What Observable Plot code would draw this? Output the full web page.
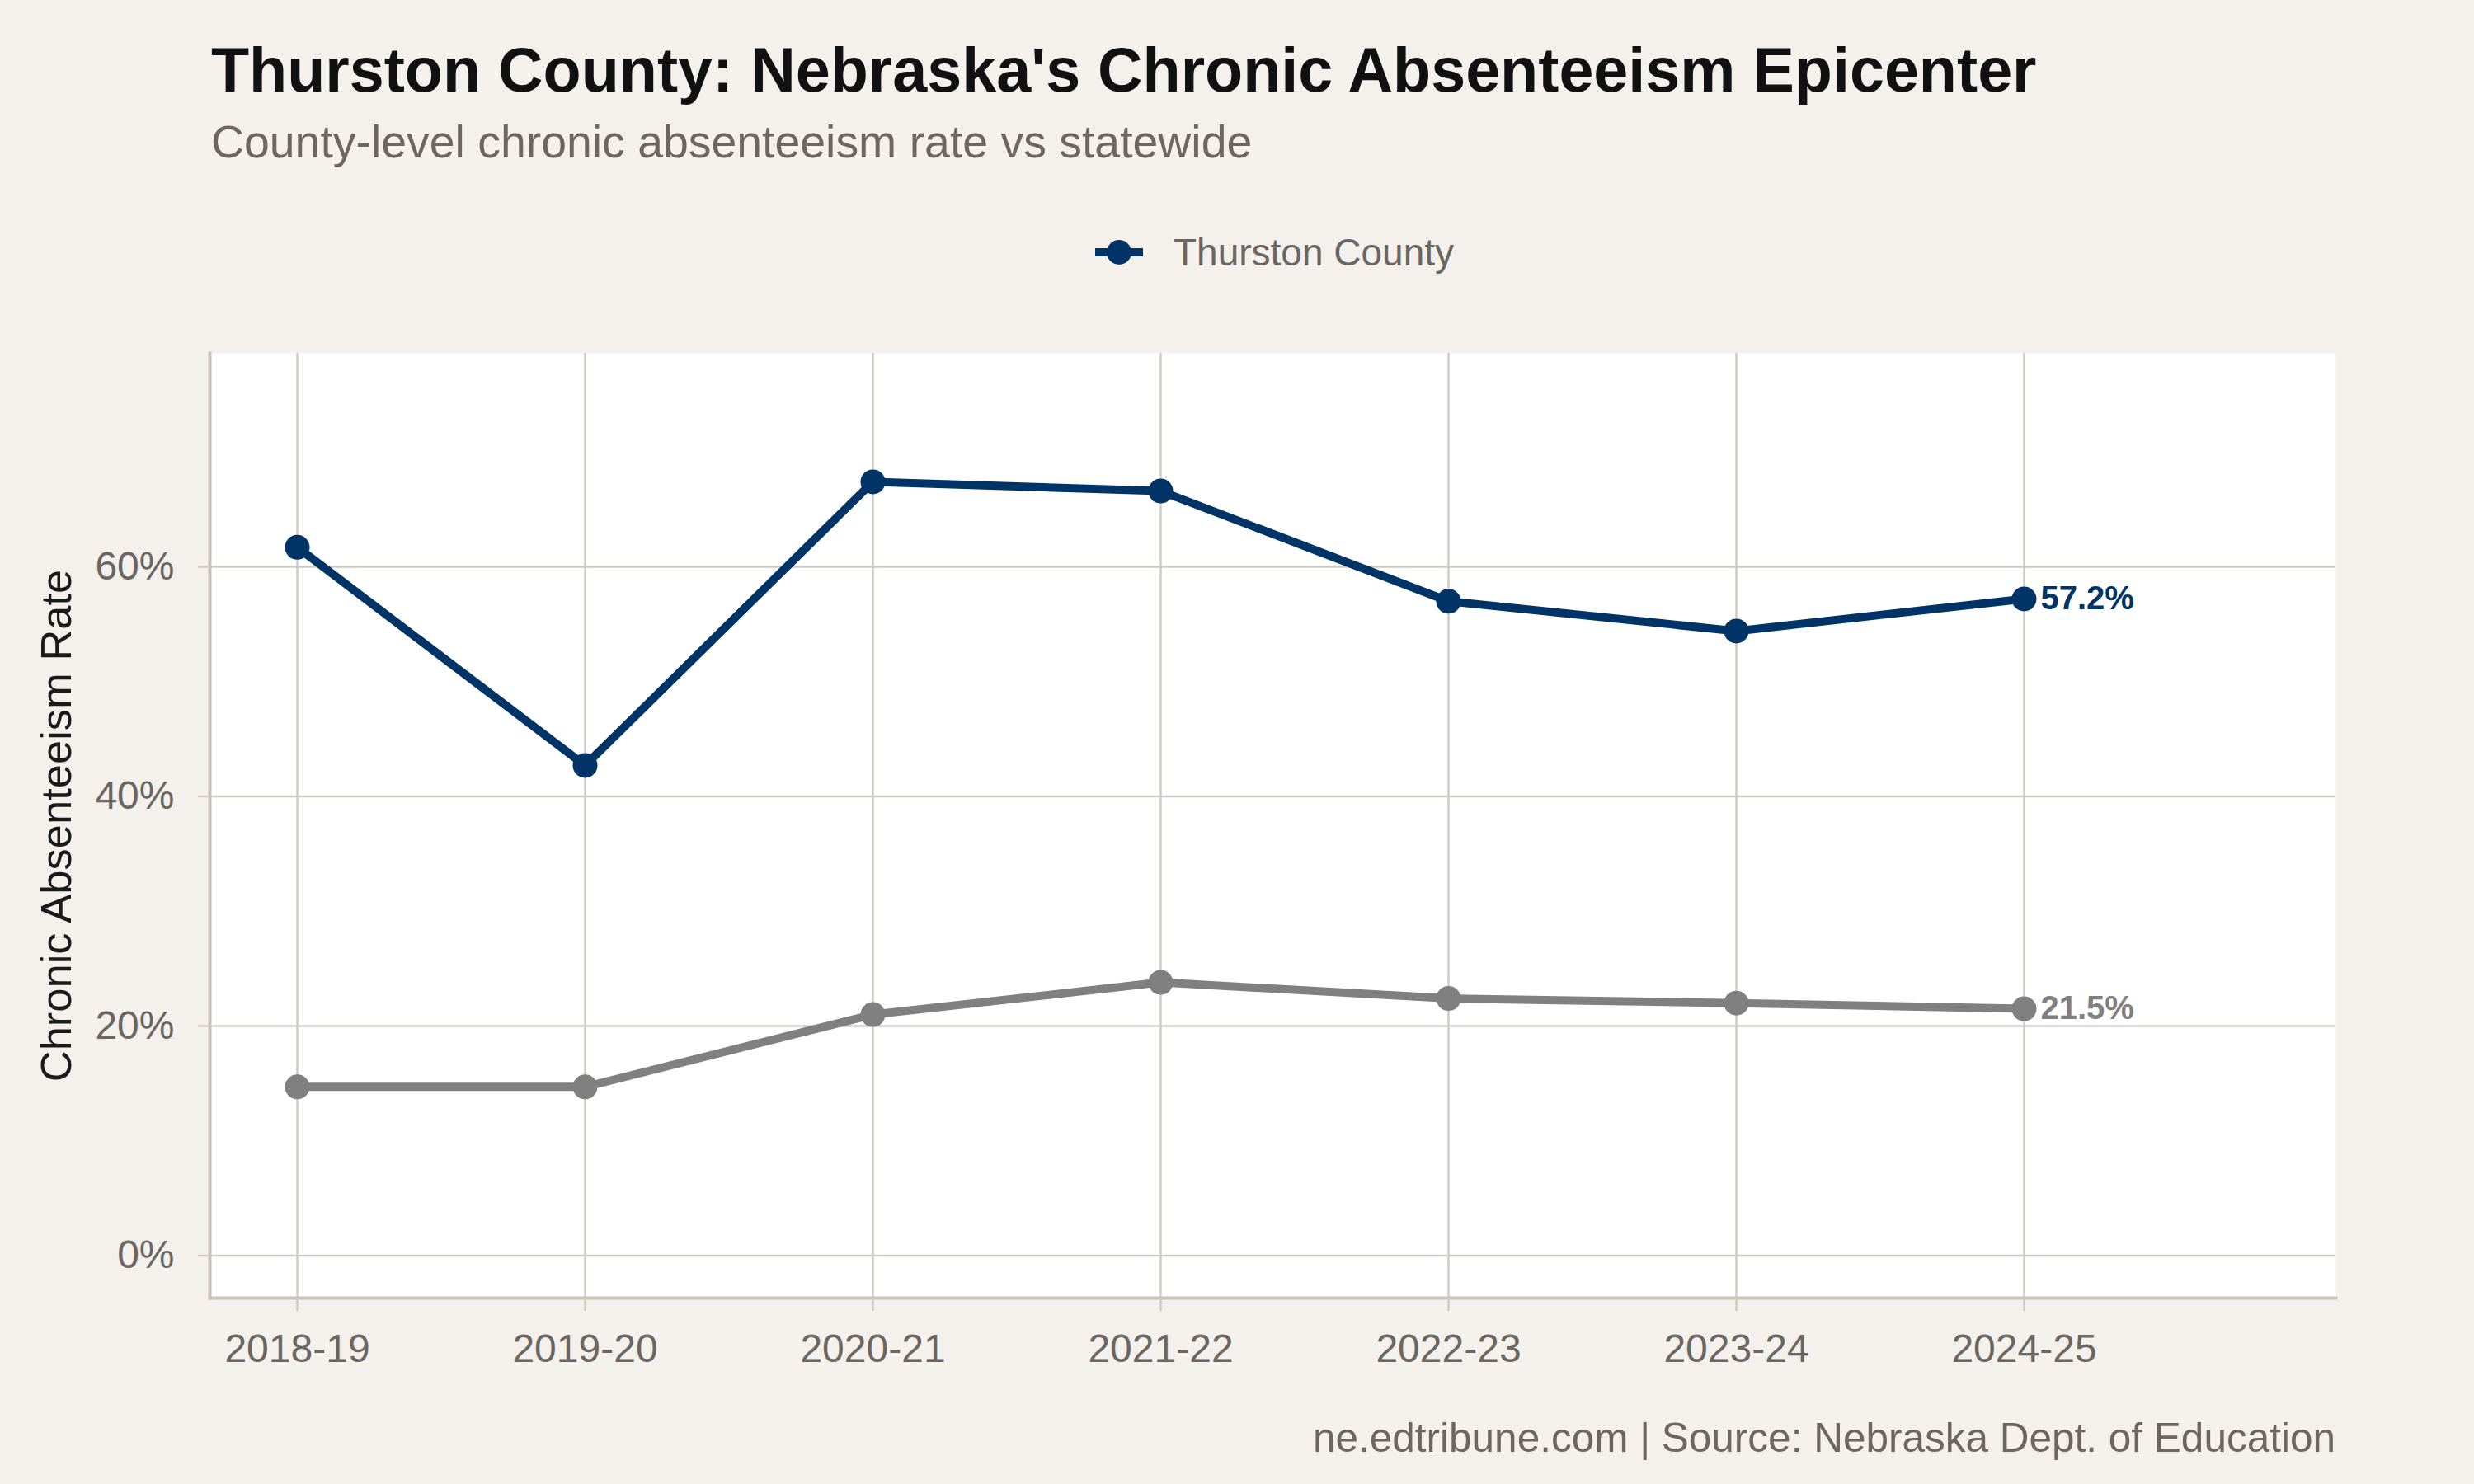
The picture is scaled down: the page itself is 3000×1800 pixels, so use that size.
<!DOCTYPE html>
<html>
<head>
<meta charset="utf-8">
<script src="https://cdn.jsdelivr.net/npm/d3@7"></script>
<script src="https://cdn.jsdelivr.net/npm/@observablehq/plot@0.6"></script>
<style>
  html, body { margin: 0; padding: 0; }
  body {
    width: 3000px; height: 1800px; position: relative; overflow: hidden;
    background: #F4F1EC;
    font-family: "Liberation Sans", Arial, Helvetica, sans-serif;
  }
  .title { position: absolute; left: 256px; top: 48px; font-size: 75.5px; line-height: 1; font-weight: bold; color: #111111; white-space: nowrap; }
  .subtitle { position: absolute; left: 256px; top: 145px; font-size: 55.4px; line-height: 1; color: #6B6661; white-space: nowrap; }
  .legend { position: absolute; left: 1328px; top: 283px; height: 46px; display: flex; align-items: center; }
  .legend span { font-size: 46px; line-height: 1; color: #6B6661; margin-left: 37px; white-space: nowrap; }
  .caption { position: absolute; right: 168px; top: 1719px; font-size: 49.5px; line-height: 1; color: #6B6661; white-space: nowrap; }
  #chart { position: absolute; left: 0; top: 400px; }
</style>
</head>
<body>
<div class="title" id="title"></div>
<div class="subtitle" id="subtitle"></div>
<div class="legend" id="legend"></div>
<div id="chart"></div>
<div class="caption" id="caption"></div>
<script>
// School years on the x axis
const seasons = ["2018-19", "2019-20", "2020-21", "2021-22", "2022-23", "2023-24", "2024-25"];

// Chronic absenteeism rate (%) by year
const thurstonRates = [61.7, 42.7, 67.4, 66.6, 57.0, 54.4, 57.2];
const statewideRates = [14.7, 14.7, 21.0, 23.8, 22.4, 22.0, 21.5];

// Series names and colours
const seriesNames = ["Thurston County", "Statewide"];
const seriesColors = ["#003366", "#808080"];

// Y-axis ticks (percent)
const yTicks = [0, 20, 40, 60];

// Texts
const titleText = "Thurston County: Nebraska's Chronic Absenteeism Epicenter";
const subtitleText = "County-level chronic absenteeism rate vs statewide";
const yTitle = "Chronic Absenteeism Rate";
const captionText = "ne.edtribune.com | Source: Nebraska Dept. of Education";

const FONT = `"Liberation Sans", Arial, Helvetica, sans-serif`;
const GRID = "#D1CBC3";
const AXIS = "#C9C2B9";
const TICK_TEXT = "#6B6661";

// Long-format table built from the arrays above
const rows = [
  ...seasons.map((s, i) => ({season: s, rate: thurstonRates[i], series: seriesNames[0]})),
  ...seasons.map((s, i) => ({season: s, rate: statewideRates[i], series: seriesNames[1]}))
];
const lastSeason = seasons[seasons.length - 1];
const lastRows = rows.filter(d => d.season === lastSeason);

document.getElementById("title").textContent = titleText;
document.getElementById("subtitle").textContent = subtitleText;
document.getElementById("caption").textContent = captionText;

// Legend: only the county series is listed
document.getElementById("legend").innerHTML =
  `<svg width="58" height="32" viewBox="0 0 58 32">
     <line x1="0" x2="58" y1="16" y2="16" stroke="${seriesColors[0]}" stroke-width="10"/>
     <circle cx="29" cy="16" r="15" fill="${seriesColors[0]}"/>
   </svg><span>${seriesNames[0]}</span>`;

const chart = Plot.plot({
  width: 3000,
  height: 1300,
  marginTop: 28,
  marginBottom: 126,
  marginLeft: 254,
  marginRight: 168,
  style: {background: "transparent", fontFamily: FONT, fontSize: "48px", color: TICK_TEXT, overflow: "visible"},
  x: {type: "point", domain: seasons, range: [357.7, 2455.5], padding: 0, label: null},
  y: {domain: [-3.7, 78.6], label: null},
  color: {domain: seriesNames, range: seriesColors},
  marks: [
    Plot.frame({fill: "white", stroke: null}),
    Plot.gridY(yTicks, {stroke: GRID, strokeOpacity: 1, strokeWidth: 2.5}),
    Plot.gridX(seasons, {stroke: GRID, strokeOpacity: 1, strokeWidth: 2.5}),
    Plot.frame({anchor: "left", stroke: AXIS, strokeWidth: 4}),
    Plot.frame({anchor: "bottom", stroke: AXIS, strokeWidth: 4}),
    Plot.axisY(yTicks, {
      tickSize: 14, tickPadding: 29, tickFormat: d => `${d}%`,
      stroke: GRID, strokeWidth: 2.5, fill: TICK_TEXT, fontSize: 48, label: null
    }),
    Plot.axisX(seasons, {
      tickSize: 16, tickPadding: 27,
      stroke: GRID, strokeWidth: 2.5, fill: TICK_TEXT, fontSize: 48, label: null
    }),
    Plot.text([yTitle], {frameAnchor: "left", textAnchor: "middle", rotate: -90, dx: -185, fontSize: 52.5, fill: "#1A1A1A"}),
    Plot.line(rows, {x: "season", y: "rate", z: "series", stroke: "series", strokeWidth: 10, strokeLinejoin: "round"}),
    Plot.dot(rows, {x: "season", y: "rate", fill: "series", r: 15}),
    Plot.text(lastRows, {
      x: "season", y: "rate", text: d => `${d.rate.toFixed(1)}%`,
      fill: "series", dx: 20, textAnchor: "start", fontWeight: "bold", fontSize: 40
    })
  ]
});
document.getElementById("chart").appendChild(chart);
</script>
</body>
</html>
